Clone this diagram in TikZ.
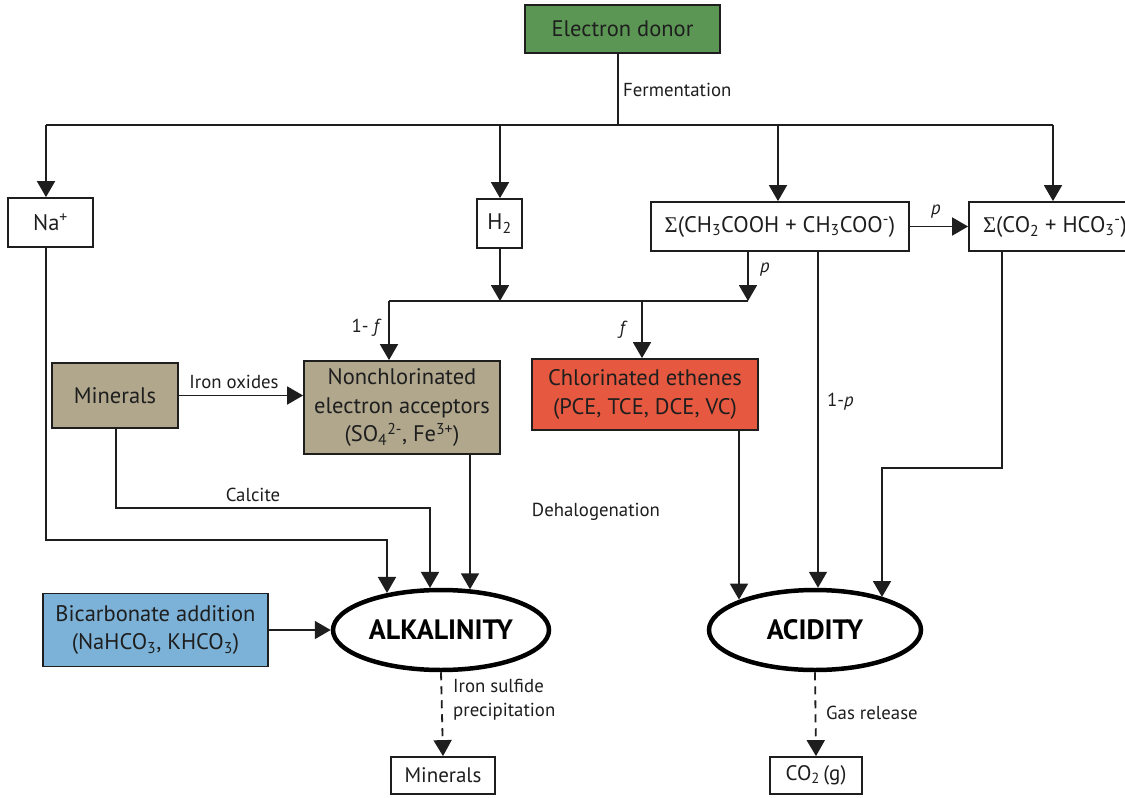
\documentclass[tikz,border=0pt]{standalone}
\usepackage{fontspec}
\setmainfont{PT Sans}
\newfontfamily\sigfont{Liberation Serif}
\usetikzlibrary{arrows.meta,shapes.geometric,calc}
\definecolor{donorgreen}{RGB}{92,150,84}
\definecolor{tanbox}{RGB}{176,167,141}
\definecolor{chlorred}{RGB}{230,88,64}
\definecolor{bicblue}{RGB}{124,178,216}
\definecolor{ink}{RGB}{30,30,30}
\newcommand{\sigm}{{\sigfont Σ}}
\newcommand{\boxfont}{\fontsize{22.5}{28.5}\selectfont}
\newcommand{\smallboxfont}{\fontsize{21}{25}\selectfont}
\newcommand{\lblfont}{\fontsize{18.8}{24}\selectfont}
\newcommand{\ovalfont}{\fontsize{28}{32}\selectfont\bfseries}
\tikzset{
  box/.style={draw=ink, line width=1.8pt, rectangle, inner sep=0pt, align=center, font=\boxfont, text=ink},
  lbl/.style={font=\lblfont, text=ink, inner sep=0pt},
  ln/.style={draw=ink, line width=1.8pt},
  arr/.style={draw=ink, line width=1.8pt, -{Triangle[width=18pt,length=16pt]}},
  dsh/.style={dash pattern=on 8pt off 6pt},
  oval/.style={ellipse, draw=black, line width=4.5pt, inner sep=0pt, font=\ovalfont, text=black}
}
\begin{document}
\begin{tikzpicture}[x=1pt,y=-1pt]
\useasboundingbox (0,0) rectangle (1125,798);
\fill[white] (0,0) rectangle (1125,798);
\clip (0,0) rectangle (1125,798);
% nodes
\node[box, fill=donorgreen, minimum width=195pt, minimum height=48pt] (donor) at (622.5,29) {Electron donor};
\node[box, minimum width=85pt, minimum height=49pt] (na) at (50.5,222.5) {Na\textsuperscript{+}};
\node[box, minimum width=45pt, minimum height=49pt] (h2) at (499.5,223.5) {H\textsubscript{2}};
\node[box, minimum width=258pt, minimum height=49pt] (sa) at (780,226.5) {\sigm(CH\textsubscript{3}COOH + CH\textsubscript{3}COO\textsuperscript{-})};
\node[box, minimum width=172pt, minimum height=49pt] (sc) at (1055,226.5) {\sigm(CO\textsubscript{2} + HCO\textsubscript{3}\textsuperscript{-})};
\node[box, fill=tanbox, minimum width=126pt, minimum height=65pt] (mi) at (115,395.5) {Minerals};
\node[box, fill=tanbox, minimum width=196pt, minimum height=93pt] (nc) at (402,407.5) {Nonchlorinated\\electron acceptors\\(SO\textsubscript{4}\textsuperscript{2-}, Fe\textsuperscript{3+})};
\node[box, fill=chlorred, minimum width=226pt, minimum height=71pt] (ch) at (645,394.5) {Chlorinated ethenes\\(PCE, TCE, DCE, VC)};
\node[box, fill=bicblue, minimum width=225pt, minimum height=73pt] (bic) at (155.5,630) {Bicarbonate addition\\(NaHCO\textsubscript{3}, KHCO\textsubscript{3})};
\node[oval, minimum width=216pt, minimum height=80pt] (alk) at (441,630) {ALKALINITY};
\node[oval, minimum width=212pt, minimum height=80pt] (acid) at (815,630) {ACIDITY};
\node[box, font=\smallboxfont, minimum width=104pt, minimum height=37pt] (minb) at (443,775.5) {Minerals};
\node[box, font=\smallboxfont, minimum width=92pt, minimum height=37pt] (co2) at (816,775.5) {CO\textsubscript{2}\,(g)};
% junction coordinates
\coordinate (fj) at (618,125);
\coordinate (tl) at (46,125);
\coordinate (tr) at (1053,125);
\coordinate (ta) at (778,125);
\coordinate (th) at (500,125);
\coordinate (mj) at (500,301);
\coordinate (ml) at (389,301);
\coordinate (mr) at (748,301);
\coordinate (mf) at (642,301);
\coordinate (nab) at (46,540);
\coordinate (nar) at (387,540);
\coordinate (mib) at (116,508);
\coordinate (mir) at (430,508);
\coordinate (ncx) at (470,500);
\coordinate (chx) at (739,500);
\coordinate (spx) at (818,400);
\coordinate (scb) at (1002,468);
\coordinate (scl) at (882,468);
% connectors
\draw[ln] (fj |- donor.south) -- (fj);
\draw[ln] (tl) -- (tr);
\draw[arr] (tl) -- (tl |- na.north);
\draw[arr] (th) -- (th |- h2.north);
\draw[arr] (ta) -- (ta |- sa.north);
\draw[arr] (tr) -- (tr |- sc.north);
\draw[arr] (sa.east) -- (sc.west);
\draw[arr] (h2.south -| mj) -- (mj);
\draw[arr] (sa.south -| mr) -- (mr);
\draw[ln] (ml) -- (mr);
\draw[arr] (ml) -- (ml |- nc.north);
\draw[arr] (mf) -- (mf |- ch.north);
\draw[arr] (mi.east) -- (mi.east -| nc.west);
\draw[arr] (na.south -| nab) -- (nab) -- (nar) -- (nar |- alk.145.9);
\draw[arr] (mi.south -| mib) -- (mib) -- (mir) -- (mir |- alk.104.7);
\draw[arr] (nc.south -| ncx) -- (ncx |- alk.54.4);
\draw[arr] (bic.east) -- (alk.west);
\draw[arr] (ch.south -| chx) -- (chx |- acid.158.6);
\draw[arr] (sa.south -| spx) -- (spx |- acid.86);
\draw[arr] (sc.south -| scb) -- (scb) -- (scl) -- (scl |- acid.26.2);
\draw[arr, dsh] (alk.south) -- (minb.north);
\draw[arr, dsh] (acid.south) -- (co2.north);
% labels
\node[lbl, anchor=west] (lferm) at (623,90) {Fermentation};
\node[lbl] (lp1) at (936,212) {\textit{p}};
\node[lbl, anchor=west] (lp2) at (760,270) {\textit{p}};
\node[lbl, anchor=east] (l1f) at (382,328) {1- \textit{f}};
\node[lbl, anchor=east] (lf) at (628,330) {\textit{f}};
\node[lbl] (liron) at (234,382) {Iron oxides};
\node[lbl] (lcalc) at (253,495) {Calcite};
\node[lbl] (ldehal) at (596,512) {Dehalogenation};
\node[lbl, anchor=west] (l1p) at (827,402) {1-\textit{p}};
\node[lbl, anchor=west, align=left] (lfes) at (453,700) {Iron sulfide\\precipitation};
\node[lbl, anchor=west] (lgas) at (826,713) {Gas release};
\end{tikzpicture}
\end{document}
